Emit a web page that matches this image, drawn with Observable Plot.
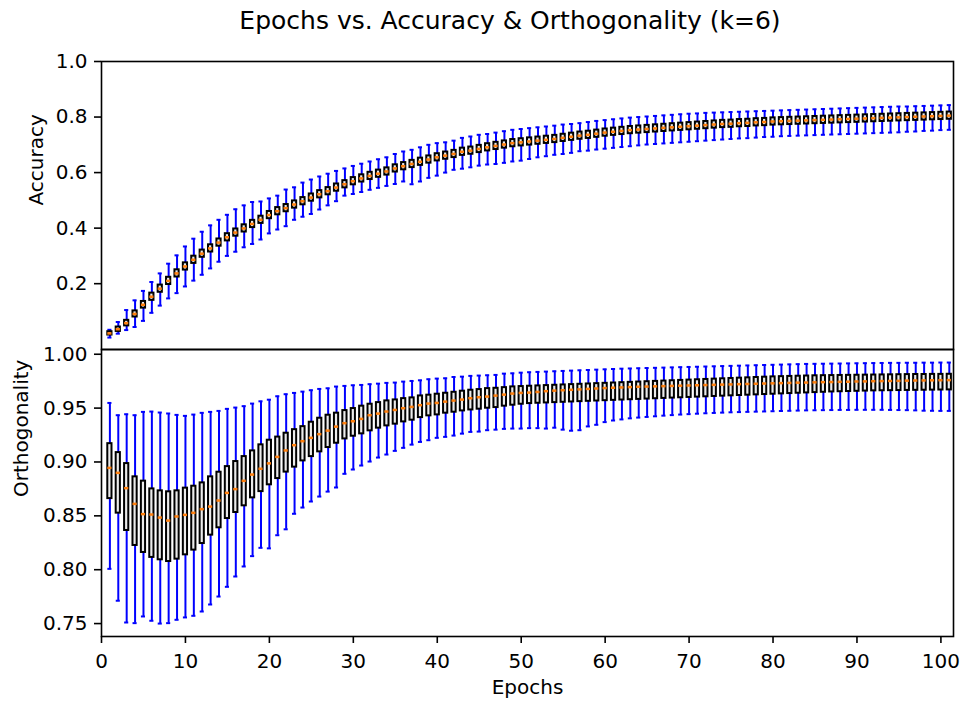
<!DOCTYPE html>
<html><head><meta charset="utf-8">
<script src="https://cdn.jsdelivr.net/npm/d3@7"></script>
<script src="https://cdn.jsdelivr.net/npm/@observablehq/plot@0.6"></script>
<style>
body{margin:0;background:#fff;}
#wrap{position:relative;width:963px;height:704px;font-family:"DejaVu Sans";background:#fff;}
#title{position:absolute;left:0;width:1020px;top:8px;text-align:center;font-size:25px;line-height:25px;color:#000;}
#topPanel,#botPanel{position:absolute;left:0;}
#topPanel{top:0px}
#botPanel{top:344px}
#wrap svg{overflow:visible;font-family:"DejaVu Sans";font-size:20px;}
</style></head><body>
<div id="wrap"><div id="title">Epochs vs. Accuracy &amp; Orthogonality (k=6)</div><div id="topPanel"></div><div id="botPanel"></div></div>
<script>
const epochs = d3.range(1, 102);
const xTicks = [0,10,20,30,40,50,60,70,80,90,100];
const accTicks = [0.2,0.4,0.6,0.8,1.0];
const orthTicks = [0.75,0.80,0.85,0.90,0.95,1.00];

const accMed = [0.021,0.036,0.058,0.091,0.124,0.153,0.182,0.210,0.237,0.262,0.286,0.308,0.327,0.348,0.367,0.384,0.399,0.415,0.430,0.447,0.461,0.472,0.485,0.497,0.510,0.522,0.533,0.546,0.558,0.569,0.579,0.588,0.596,0.604,0.615,0.623,0.631,0.639,0.647,0.655,0.661,0.667,0.675,0.679,0.685,0.691,0.696,0.701,0.706,0.709,0.712,0.715,0.718,0.721,0.725,0.729,0.733,0.736,0.740,0.744,0.747,0.750,0.753,0.755,0.757,0.759,0.761,0.763,0.765,0.767,0.769,0.771,0.773,0.775,0.776,0.778,0.779,0.781,0.782,0.784,0.785,0.786,0.787,0.788,0.789,0.790,0.791,0.792,0.793,0.794,0.795,0.796,0.797,0.798,0.799,0.800,0.801,0.802,0.803,0.804,0.805];
const accQ1 = [0.015,0.028,0.048,0.080,0.112,0.140,0.169,0.197,0.224,0.249,0.273,0.295,0.314,0.335,0.354,0.371,0.386,0.402,0.417,0.434,0.448,0.459,0.472,0.484,0.497,0.509,0.520,0.533,0.545,0.556,0.566,0.575,0.583,0.591,0.602,0.610,0.618,0.626,0.634,0.642,0.648,0.654,0.662,0.666,0.672,0.678,0.683,0.688,0.693,0.696,0.699,0.702,0.705,0.708,0.712,0.716,0.720,0.723,0.727,0.731,0.734,0.737,0.740,0.742,0.744,0.746,0.748,0.750,0.752,0.754,0.756,0.758,0.760,0.762,0.763,0.765,0.766,0.768,0.769,0.771,0.772,0.773,0.774,0.775,0.776,0.777,0.778,0.779,0.780,0.781,0.782,0.783,0.784,0.785,0.786,0.787,0.788,0.789,0.790,0.791,0.792];
const accQ3 = [0.027,0.044,0.068,0.102,0.136,0.166,0.195,0.223,0.250,0.275,0.299,0.321,0.340,0.361,0.380,0.397,0.412,0.428,0.443,0.460,0.474,0.485,0.498,0.510,0.523,0.535,0.546,0.559,0.571,0.582,0.592,0.601,0.609,0.617,0.628,0.636,0.644,0.652,0.660,0.668,0.674,0.680,0.688,0.692,0.698,0.704,0.709,0.714,0.719,0.722,0.725,0.728,0.731,0.734,0.738,0.742,0.746,0.749,0.753,0.757,0.760,0.763,0.766,0.768,0.770,0.772,0.774,0.776,0.778,0.780,0.782,0.784,0.786,0.788,0.789,0.791,0.792,0.794,0.795,0.797,0.798,0.799,0.800,0.801,0.802,0.803,0.804,0.805,0.806,0.807,0.808,0.809,0.810,0.811,0.812,0.813,0.814,0.815,0.816,0.817,0.818];
const accMin = [0.006,0.020,0.033,0.044,0.066,0.095,0.121,0.147,0.166,0.190,0.211,0.232,0.255,0.279,0.300,0.315,0.331,0.343,0.359,0.381,0.395,0.407,0.430,0.441,0.451,0.467,0.482,0.497,0.517,0.523,0.530,0.538,0.545,0.552,0.559,0.568,0.558,0.568,0.581,0.589,0.600,0.610,0.614,0.619,0.625,0.629,0.631,0.635,0.640,0.643,0.649,0.655,0.659,0.664,0.667,0.671,0.677,0.679,0.683,0.686,0.689,0.692,0.695,0.698,0.701,0.703,0.705,0.707,0.709,0.711,0.713,0.715,0.717,0.719,0.721,0.723,0.724,0.726,0.728,0.729,0.731,0.732,0.733,0.734,0.735,0.736,0.737,0.738,0.739,0.740,0.741,0.742,0.743,0.744,0.745,0.747,0.748,0.750,0.751,0.753,0.754];
const accMax = [0.034,0.062,0.105,0.140,0.174,0.206,0.237,0.272,0.302,0.334,0.362,0.387,0.410,0.430,0.448,0.468,0.482,0.494,0.496,0.507,0.517,0.539,0.547,0.564,0.575,0.586,0.596,0.606,0.615,0.624,0.632,0.640,0.648,0.655,0.667,0.676,0.682,0.691,0.700,0.706,0.709,0.715,0.725,0.730,0.736,0.739,0.744,0.749,0.754,0.757,0.760,0.763,0.766,0.769,0.773,0.775,0.778,0.782,0.786,0.789,0.792,0.795,0.798,0.800,0.802,0.804,0.806,0.808,0.810,0.812,0.813,0.815,0.816,0.817,0.818,0.819,0.820,0.821,0.822,0.823,0.824,0.825,0.826,0.827,0.828,0.829,0.830,0.831,0.832,0.833,0.834,0.835,0.836,0.837,0.838,0.838,0.839,0.840,0.841,0.842,0.843];

const orthMed = [0.8945,0.8899,0.8757,0.8611,0.8516,0.8512,0.8484,0.8456,0.8494,0.8509,0.8528,0.8562,0.8586,0.8642,0.8713,0.8748,0.8825,0.8883,0.8937,0.8987,0.9047,0.9107,0.9156,0.9193,0.9224,0.9258,0.9291,0.9328,0.9360,0.9378,0.9400,0.9434,0.9449,0.9468,0.9483,0.9499,0.9511,0.9527,0.9542,0.9548,0.9560,0.9570,0.9579,0.9592,0.9601,0.9607,0.9616,0.9625,0.9635,0.9641,0.9644,0.9650,0.9657,0.9662,0.9666,0.9670,0.9674,0.9678,0.9682,0.9686,0.9689,0.9692,0.9695,0.9698,0.9700,0.9702,0.9704,0.9706,0.9708,0.9710,0.9712,0.9714,0.9716,0.9718,0.9720,0.9722,0.9724,0.9726,0.9728,0.9730,0.9732,0.9734,0.9736,0.9737,0.9739,0.9741,0.9742,0.9744,0.9745,0.9747,0.9748,0.9750,0.9751,0.9752,0.9753,0.9755,0.9756,0.9757,0.9758,0.9759,0.9760];
const orthQ1 = [0.8660,0.8525,0.8364,0.8225,0.8160,0.8114,0.8092,0.8076,0.8098,0.8138,0.8182,0.8243,0.8321,0.8389,0.8475,0.8531,0.8593,0.8667,0.8725,0.8788,0.8846,0.8906,0.8952,0.9010,0.9050,0.9094,0.9134,0.9174,0.9214,0.9239,0.9261,0.9289,0.9314,0.9335,0.9351,0.9372,0.9388,0.9412,0.9428,0.9437,0.9453,0.9462,0.9474,0.9483,0.9490,0.9499,0.9505,0.9518,0.9527,0.9536,0.9542,0.9545,0.9548,0.9551,0.9554,0.9557,0.9560,0.9563,0.9566,0.9569,0.9572,0.9575,0.9578,0.9581,0.9584,0.9587,0.9590,0.9593,0.9596,0.9599,0.9602,0.9605,0.9608,0.9611,0.9614,0.9617,0.9620,0.9623,0.9626,0.9629,0.9632,0.9635,0.9638,0.9641,0.9644,0.9647,0.9650,0.9652,0.9654,0.9656,0.9658,0.9660,0.9661,0.9662,0.9663,0.9664,0.9665,0.9666,0.9667,0.9668,0.9669];
const orthQ3 = [0.9170,0.9087,0.8985,0.8862,0.8822,0.8750,0.8732,0.8723,0.8732,0.8757,0.8775,0.8806,0.8862,0.8905,0.8957,0.9004,0.9050,0.9103,0.9159,0.9202,0.9231,0.9267,0.9300,0.9328,0.9369,0.9406,0.9434,0.9453,0.9477,0.9496,0.9518,0.9536,0.9551,0.9567,0.9576,0.9588,0.9595,0.9613,0.9620,0.9629,0.9638,0.9647,0.9657,0.9666,0.9672,0.9681,0.9684,0.9690,0.9697,0.9700,0.9703,0.9706,0.9709,0.9712,0.9715,0.9718,0.9721,0.9724,0.9727,0.9730,0.9733,0.9736,0.9739,0.9742,0.9745,0.9748,0.9751,0.9754,0.9757,0.9760,0.9763,0.9766,0.9769,0.9772,0.9775,0.9778,0.9781,0.9784,0.9787,0.9790,0.9792,0.9794,0.9796,0.9798,0.9800,0.9801,0.9802,0.9803,0.9804,0.9805,0.9806,0.9807,0.9808,0.9809,0.9810,0.9811,0.9812,0.9812,0.9813,0.9813,0.9814];
const orthMin = [0.8008,0.7712,0.7510,0.7504,0.7566,0.7526,0.7500,0.7504,0.7535,0.7557,0.7572,0.7612,0.7677,0.7751,0.7841,0.7937,0.8030,0.8126,0.8203,0.8198,0.8320,0.8375,0.8519,0.8577,0.8633,0.8679,0.8725,0.8763,0.8890,0.8930,0.8967,0.9004,0.9041,0.9069,0.9103,0.9131,0.9161,0.9186,0.9202,0.9224,0.9233,0.9245,0.9263,0.9279,0.9282,0.9295,0.9300,0.9307,0.9310,0.9310,0.9314,0.9314,0.9310,0.9318,0.9300,0.9290,0.9295,0.9330,0.9345,0.9370,0.9385,0.9395,0.9405,0.9412,0.9418,0.9424,0.9430,0.9435,0.9440,0.9444,0.9448,0.9452,0.9455,0.9458,0.9461,0.9463,0.9465,0.9467,0.9469,0.9471,0.9473,0.9475,0.9477,0.9479,0.9480,0.9481,0.9482,0.9483,0.9483,0.9484,0.9484,0.9484,0.9484,0.9483,0.9482,0.9481,0.9479,0.9476,0.9475,0.9474,0.9474];
const orthMax = [0.9548,0.9434,0.9443,0.9434,0.9465,0.9468,0.9459,0.9450,0.9437,0.9428,0.9440,0.9456,0.9465,0.9474,0.9493,0.9505,0.9518,0.9542,0.9563,0.9578,0.9610,0.9629,0.9641,0.9653,0.9666,0.9678,0.9684,0.9700,0.9706,0.9712,0.9715,0.9722,0.9727,0.9734,0.9737,0.9746,0.9752,0.9758,0.9768,0.9774,0.9777,0.9789,0.9792,0.9799,0.9802,0.9805,0.9808,0.9820,0.9823,0.9829,0.9833,0.9836,0.9839,0.9842,0.9845,0.9848,0.9851,0.9854,0.9857,0.9860,0.9863,0.9866,0.9868,0.9870,0.9872,0.9874,0.9876,0.9878,0.9880,0.9882,0.9884,0.9886,0.9888,0.9890,0.9892,0.9894,0.9896,0.9898,0.9900,0.9902,0.9904,0.9906,0.9908,0.9910,0.9911,0.9912,0.9913,0.9914,0.9915,0.9916,0.9917,0.9918,0.9919,0.9920,0.9920,0.9921,0.9921,0.9922,0.9922,0.9923,0.9923];

function rows(mn, q1, md, q3, mx) {
  return epochs.map((e, i) => ({epoch: e, min: mn[i], q1: q1[i], med: md[i], q3: q3[i], max: mx[i]}));
}
const accRows = rows(accMin, accQ1, accMed, accQ3, accMax);
const orthRows = rows(orthMin, orthQ1, orthMed, orthQ3, orthMax);

function boxMarks(data) {
  return [
    Plot.ruleX(data, {x: "epoch", y1: "min", y2: "q1", stroke: "blue", strokeWidth: 2}),
    Plot.ruleX(data, {x: "epoch", y1: "q3", y2: "max", stroke: "blue", strokeWidth: 2}),
    Plot.ruleY(data, {y: "min", x1: d => d.epoch - 0.125, x2: d => d.epoch + 0.125, stroke: "blue", strokeWidth: 2, strokeLinecap: "square"}),
    Plot.ruleY(data, {y: "max", x1: d => d.epoch - 0.125, x2: d => d.epoch + 0.125, stroke: "blue", strokeWidth: 2, strokeLinecap: "square"}),
    Plot.rect(data, {x1: d => d.epoch - 0.25, x2: d => d.epoch + 0.25, y1: "q1", y2: "q3", fill: "#ebebeb", stroke: "black", strokeWidth: 2}),
    Plot.ruleY(data, {y: "med", x1: d => d.epoch - 0.25, x2: d => d.epoch + 0.25, stroke: "#ff7f0e", strokeWidth: 2.5})
  ];
}
function yLabels(ticks, fmt) {
  return Plot.text(ticks, {y: d => d, frameAnchor: "left", dx: -14, textAnchor: "end", text: d => d3.format(fmt)(d), fontSize: 20, fill: "black"});
}
const chartStyle = {"font-family": "DejaVu Sans", "font-size": "20px", color: "black", background: "transparent", overflow: "visible"};

const topChart = Plot.plot({
  width: 963, height: 350, marginTop: 61, marginBottom: 1, marginLeft: 101, marginRight: 10,
  style: chartStyle,
  x: {domain: [0, 101.5], axis: null},
  y: {domain: [-0.037, 1.0], axis: null},
  marks: [
    ...boxMarks(accRows),
    Plot.axisY({ticks: accTicks, tickFormat: () => "", tickSize: 7, strokeWidth: 1.6, label: null}),
    yLabels(accTicks, ".1f"),
    Plot.text(["Accuracy"], {frameAnchor: "left", dx: -65, rotate: -90, text: d => d, fontSize: 20}),
    Plot.frame({stroke: "black", strokeWidth: 1.6})
  ]
});
document.getElementById("topPanel").appendChild(topChart);

const botChart = Plot.plot({
  width: 963, height: 360, marginTop: 5, marginBottom: 68, marginLeft: 101, marginRight: 10,
  style: chartStyle,
  x: {domain: [0, 101.5]},
  y: {domain: [0.7380, 1.0044], axis: null},
  marks: [
    ...boxMarks(orthRows),
    Plot.axisY({ticks: orthTicks, tickFormat: () => "", tickSize: 7, strokeWidth: 1.6, label: null}),
    yLabels(orthTicks, ".2f"),
    Plot.axisX({ticks: xTicks, tickFormat: d3.format("d"), tickSize: 7, tickPadding: 10, strokeWidth: 1.6, label: null, fontSize: 20}),
    Plot.text(["Orthogonality"], {frameAnchor: "left", dx: -80, dy: 4, rotate: -90, text: d => d, fontSize: 20}),
    Plot.text(["Epochs"], {frameAnchor: "bottom", dy: 57, text: d => d, fontSize: 20}),
    Plot.frame({stroke: "black", strokeWidth: 1.6})
  ]
});
document.getElementById("botPanel").appendChild(botChart);
</script>
</body></html>
